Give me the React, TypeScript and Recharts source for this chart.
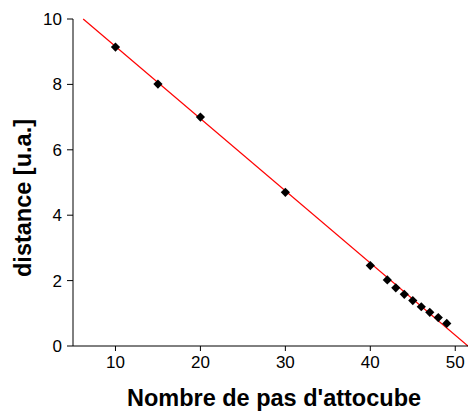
import React from 'react';
import { ComposedChart, Line, Scatter, XAxis, YAxis } from 'recharts';

// mesures : nombre de pas vs distance
const steps = [10, 15, 20, 30, 40, 42, 43, 44, 45, 46, 47, 48, 49];
const distance = [9.14, 8.01, 7.0, 4.7, 2.46, 2.02, 1.78, 1.58, 1.39, 1.2, 1.03, 0.87, 0.69];

// ajustement linéaire (extrémités)
const fitX = [6.2, 51.5];
const fitY = [10, 0];

const xTicks = [10, 20, 30, 40, 50];
const xMinorTicks = [5, 15, 25, 35, 45];
const yTicks = [0, 2, 4, 6, 8, 10];
const yMinorTicks = [1, 3, 5, 7, 9];

const points = steps.map((x, i) => ({ x, y: distance[i] }));
const fit = fitX.map((x, i) => ({ x, y: fitY[i] }));

const FONT = '"Liberation Sans", Arial, sans-serif';

const Diamond = (props: any) => {
  const { cx, cy } = props;
  const r = 4.6;
  return (
    <path
      d={`M${cx},${cy - r}L${cx + r},${cy}L${cx},${cy + r}L${cx - r},${cy}Z`}
      fill="#000"
    />
  );
};

export default function App() {
  return (
    <div style={{ position: 'absolute', left: 0, top: 0, background: '#fff' }}>
      <ComposedChart width={468} height={412} margin={{ top: 19, right: 0, bottom: 0, left: 0 }}>
        <XAxis
          dataKey="x"
          type="number"
          domain={[5, 51.5]}
          ticks={xTicks}
          allowDataOverflow
          height={66}
          stroke="#000"
          tickSize={5}
          tickMargin={5}
          tick={{ fill: '#000', fontSize: 17, fontFamily: FONT }}
          label={() => (
            <text
              x={274}
              y={406}
              textAnchor="middle"
              fontFamily={FONT}
              fontWeight="bold"
              fontSize={23.5}
              fill="#000"
            >
              Nombre de pas d'attocube
            </text>
          )}
        />
        <XAxis
          xAxisId="minor"
          dataKey="x"
          type="number"
          domain={[5, 51.5]}
          ticks={xMinorTicks}
          allowDataOverflow
          height={0}
          axisLine={false}
          stroke="#000"
          tickSize={3}
          tick={false}
        />
        <YAxis
          dataKey="y"
          type="number"
          domain={[0, 10]}
          ticks={yTicks}
          width={73}
          stroke="#000"
          tickSize={6}
          tickMargin={5}
          tick={{ fill: '#000', fontSize: 17, fontFamily: FONT }}
          label={() => (
            <text
              x={31}
              y={198}
              transform="rotate(-90 31 198)"
              textAnchor="middle"
              fontFamily={FONT}
              fontWeight="bold"
              fontSize={23.5}
              fill="#000"
            >
              distance [u.a.]
            </text>
          )}
        />
        <YAxis
          yAxisId="minor"
          dataKey="y"
          type="number"
          domain={[0, 10]}
          ticks={yMinorTicks}
          width={0}
          axisLine={false}
          stroke="#000"
          tickSize={4}
          tick={false}
        />
        <Line
          data={fit}
          dataKey="y"
          type="linear"
          stroke="#ff0000"
          strokeWidth={1.2}
          dot={false}
          activeDot={false}
          isAnimationActive={false}
        />
        <Scatter data={points} dataKey="y" shape={<Diamond />} isAnimationActive={false} />
      </ComposedChart>
    </div>
  );
}
